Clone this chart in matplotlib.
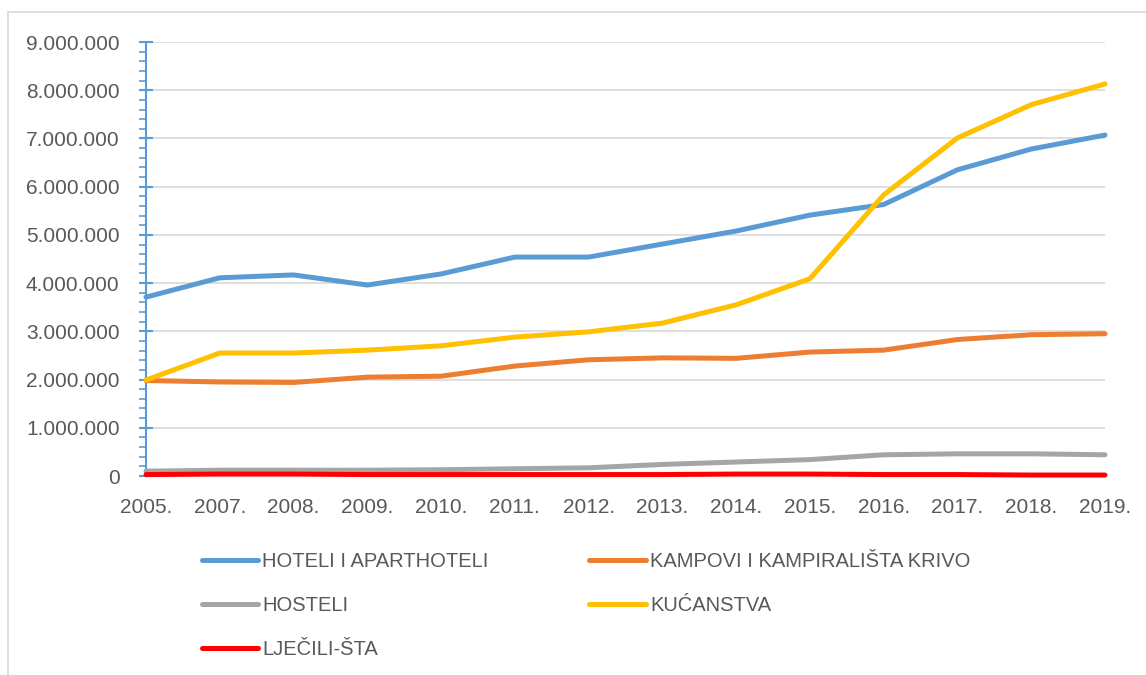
"""
Overnight stays by accommodation type, 2005-2019 (recreated line chart).
"""
import matplotlib
matplotlib.use("Agg")
import matplotlib.pyplot as plt
from matplotlib.patches import Rectangle
from matplotlib.ticker import FuncFormatter, MultipleLocator

plt.rcParams["font.family"] = ["Liberation Sans", "DejaVu Sans"]

YEARS = ["2005.", "2007.", "2008.", "2009.", "2010.", "2011.", "2012.",
         "2013.", "2014.", "2015.", "2016.", "2017.", "2018.", "2019."]

HOTELI = [3.71, 4.11, 4.17, 3.96, 4.19, 4.54, 4.54, 4.81, 5.08, 5.41, 5.63, 6.35, 6.78, 7.07]
KAMPOVI = [1.98, 1.95, 1.94, 2.05, 2.07, 2.28, 2.41, 2.45, 2.44, 2.57, 2.61, 2.83, 2.93, 2.95]
HOSTELI = [0.10, 0.12, 0.12, 0.12, 0.13, 0.15, 0.17, 0.24, 0.29, 0.34, 0.44, 0.46, 0.46, 0.44]
KUCANSTVA = [1.99, 2.55, 2.55, 2.61, 2.70, 2.88, 2.99, 3.17, 3.55, 4.09, 5.83, 7.01, 7.70, 8.13]
LJECILISTA = [0.03, 0.04, 0.04, 0.03, 0.03, 0.03, 0.03, 0.03, 0.04, 0.04, 0.03, 0.03, 0.02, 0.02]

SERIES = [
    ("HOTELI I APARTHOTELI", HOTELI, "#5B9BD5"),
    ("KAMPOVI I KAMPIRALIŠTA KRIVO", KAMPOVI, "#ED7D31"),
    ("HOSTELI", HOSTELI, "#A5A5A5"),
    ("KUĆANSTVA", KUCANSTVA, "#FFC000"),
    ("LJEČILI-ŠTA", LJECILISTA, "#FF0000"),
]

TXT = "#595959"
AXIS_BLUE = "#5B9BD5"


def dotted(v, _pos):
    return f"{int(round(v)):,}".replace(",", ".")


def main():
    fig = plt.figure(figsize=(11.46, 6.75), dpi=100)
    ax = fig.add_axes([146 / 1146, 1 - 476 / 675, (1105 - 146) / 1146, (476 - 42) / 675])

    # chart area border
    fig.patches.append(Rectangle((8 / 1146, -0.1), 1.2, 1 - 12 / 675 + 0.1,
                                 transform=fig.transFigure, fill=False,
                                 ec="#D9D9D9", lw=1.2))

    x = list(range(len(YEARS)))
    lines = {}
    for name, vals, col in SERIES:
        (ln,) = ax.plot(x, [v * 1e6 for v in vals], color=col, lw=3.6,
                        solid_joinstyle="round", solid_capstyle="round", label=name,
                        clip_on=False, zorder=3)
        lines[name] = ln

    ax.set_xlim(0, len(YEARS) - 1)
    ax.set_ylim(0, 9e6)
    ax.set_xticks(x)
    ax.set_xticklabels(YEARS)
    ax.yaxis.set_major_locator(MultipleLocator(1e6))
    ax.yaxis.set_minor_locator(MultipleLocator(2e5))
    ax.yaxis.set_major_formatter(FuncFormatter(dotted))

    ax.grid(axis="y", color="#D9D9D9", lw=1.2, zorder=0)
    for s in ["top", "right", "bottom"]:
        ax.spines[s].set_visible(False)
    ax.spines["left"].set_color(AXIS_BLUE)
    ax.spines["left"].set_linewidth(1.5)
    ax.spines["left"].set_zorder(2)

    ax.tick_params(axis="y", which="major", direction="inout", length=10, width=1.5,
                   color=AXIS_BLUE, labelsize=15, labelcolor=TXT, pad=14)
    ax.tick_params(axis="y", which="minor", direction="out", length=5, width=1.2,
                   color=AXIS_BLUE)
    ax.tick_params(axis="x", length=0, labelsize=15, labelcolor=TXT, pad=16)

    order = ["HOTELI I APARTHOTELI", "HOSTELI", "LJEČILI-ŠTA",
             "KAMPOVI I KAMPIRALIŠTA KRIVO", "KUĆANSTVA"]
    leg = fig.legend([lines[n] for n in order], order, loc="upper left",
                     bbox_to_anchor=(202 / 1146, 1 - 552 / 675), ncol=2, frameon=False,
                     fontsize=14.5, handlelength=2.8, handletextpad=0.2,
                     columnspacing=5.0, labelspacing=1.25, borderpad=0, borderaxespad=0)
    for t in leg.get_texts():
        t.set_color(TXT)

    fig.savefig("out.png", dpi=100)
    plt.close(fig)


if __name__ == "__main__":
    main()
